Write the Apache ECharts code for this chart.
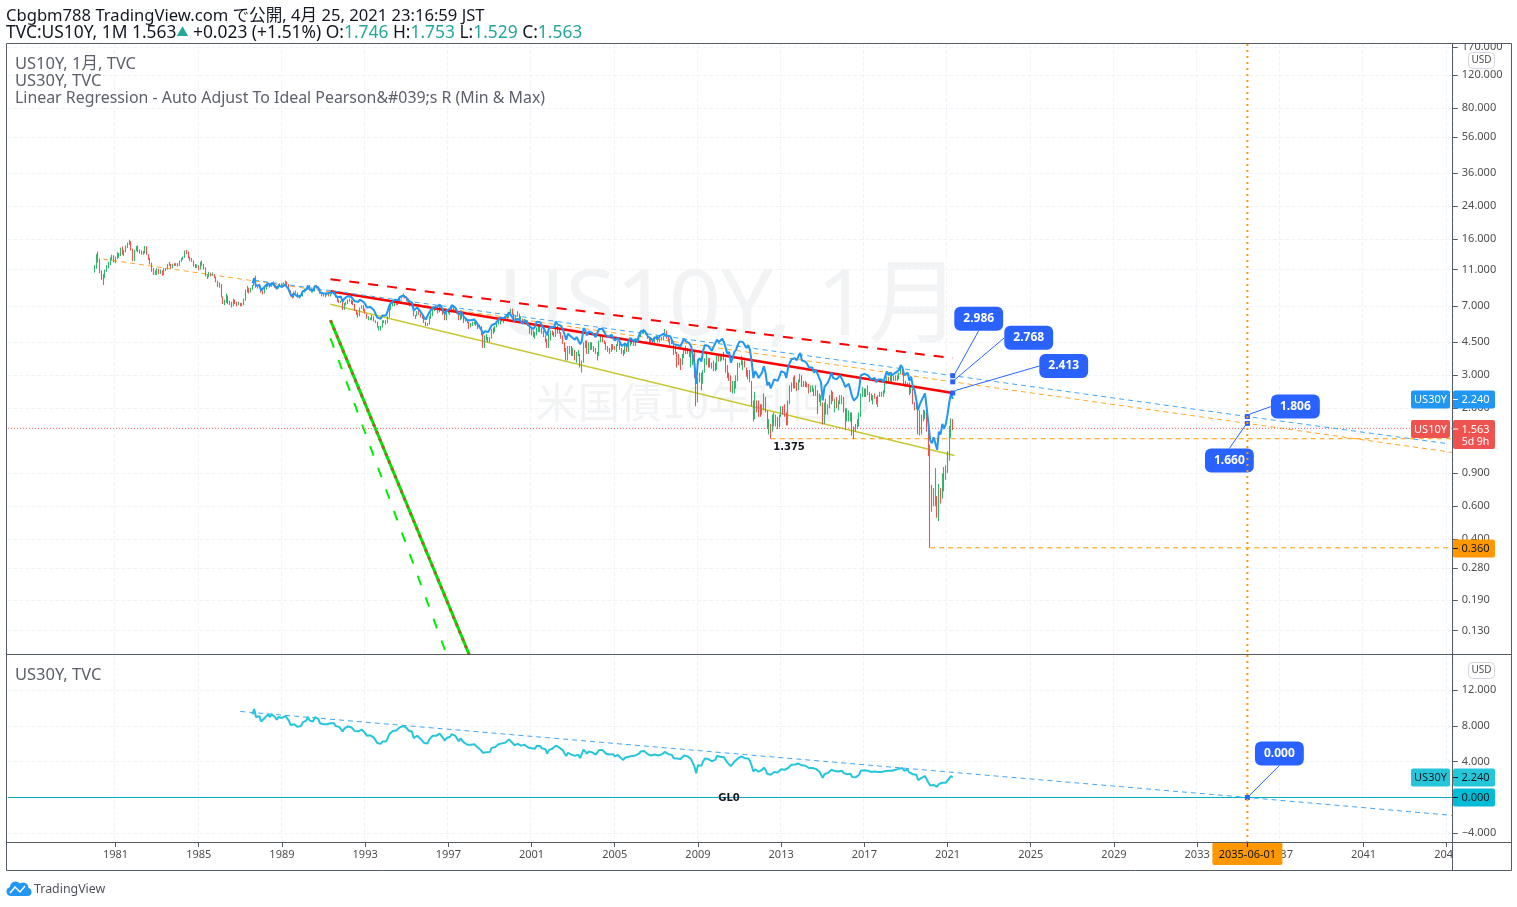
<!DOCTYPE html>
<html>
<head>
<meta charset="utf-8">
<title>US10Y / US30Y</title>
<script src="https://cdn.jsdelivr.net/npm/echarts@6/dist/echarts.min.js"></script>
<style>html,body{margin:0;padding:0;background:#fff}#c{width:1517px;height:907px}</style>
</head>
<body>
<div id="c"></div>
<script>
// Monthly US 10-year yield, one row per calendar year starting 1980.
const close10y = [
11.22,12.90,12.40,10.70,10.10,9.80,10.80,11.40,11.70,12.60,12.70,12.40,
12.60,13.10,13.10,14.10,13.30,13.80,14.60,15.20,15.60,14.20,12.40,13.90,
14.40,13.90,13.70,13.40,13.60,14.50,13.30,12.60,11.90,10.90,10.80,10.50,
11.00,10.60,10.80,10.40,11.10,11.00,11.70,11.70,11.30,11.70,11.60,11.80,
11.60,12.20,12.50,12.80,13.80,13.60,12.70,12.50,12.20,11.60,11.40,11.50,
11.00,12.00,11.60,11.20,10.20,10.20,10.50,10.20,10.30,10.00,9.50,8.90,
9.10,7.80,7.30,7.40,8.10,7.30,7.30,7.00,7.50,7.30,7.20,7.20,
7.10,7.20,7.60,8.40,8.70,8.40,8.70,9.00,9.60,8.90,9.00,8.90,
8.40,8.30,8.70,9.00,9.20,8.90,9.30,9.20,8.90,8.70,9.10,9.10,
8.90,9.30,9.30,9.00,8.50,8.10,7.80,8.30,8.30,7.90,7.80,7.90,
8.40,8.50,8.60,9.00,8.60,8.40,8.40,8.90,8.80,8.60,8.20,8.10,
8.00,8.00,8.10,8.00,8.10,8.20,8.20,7.80,7.50,7.40,7.40,6.70,
7.20,7.20,7.50,7.50,7.30,7.10,6.60,6.40,6.20,6.80,6.90,6.70,
6.40,6.00,6.00,6.00,6.10,5.80,5.80,5.40,5.40,5.40,5.80,5.80,
5.70,6.10,6.70,7.00,7.20,7.30,7.20,7.30,7.70,8.00,7.90,7.80,
7.60,7.20,7.20,7.10,6.30,6.20,6.40,6.30,6.20,6.00,5.80,5.60,
5.60,6.10,6.30,6.70,6.90,6.70,6.80,7.00,6.70,6.30,6.00,6.40,
6.50,6.50,6.90,6.70,6.70,6.50,6.00,6.30,6.10,5.80,5.90,5.70,
5.50,5.60,5.70,5.70,5.50,5.40,5.50,5.00,4.40,4.60,4.70,4.60,
4.70,5.30,5.20,5.40,5.60,5.80,5.90,5.90,5.90,6.00,6.20,6.40,
6.70,6.40,6.00,6.20,6.30,6.00,6.00,5.70,5.80,5.80,5.50,5.10,
5.10,4.90,4.90,5.30,5.40,5.40,5.10,4.80,4.60,4.20,4.70,5.10,
5.00,4.90,5.40,5.10,5.00,4.80,4.50,4.10,3.60,3.90,4.20,3.80,
4.00,3.70,3.80,3.90,3.40,3.50,4.40,4.50,3.90,4.30,4.30,4.25,
4.15,3.97,3.84,4.51,4.65,4.58,4.47,4.12,4.13,4.03,4.35,4.22,
4.13,4.38,4.49,4.20,3.98,3.91,4.28,4.02,4.33,4.56,4.49,4.39,
4.52,4.55,4.85,5.05,5.12,5.14,4.98,4.73,4.63,4.60,4.46,4.70,
4.82,4.56,4.65,4.63,4.89,5.03,4.74,4.53,4.59,4.47,3.94,4.02,
3.59,3.51,3.41,3.77,4.06,3.97,3.95,3.81,3.82,3.95,2.92,2.21,
2.84,3.01,2.67,3.12,3.46,3.53,3.48,3.40,3.31,3.38,3.20,3.84,
3.58,3.61,3.83,3.65,3.29,2.93,2.91,2.47,2.51,2.60,2.80,3.29,
3.37,3.43,3.47,3.29,3.06,3.16,2.80,2.22,1.92,2.11,2.07,1.88,
1.80,1.97,2.21,1.91,1.56,1.64,1.47,1.55,1.63,1.69,1.62,1.76,
1.98,1.88,1.85,1.67,2.13,2.49,2.58,2.78,2.61,2.55,2.74,3.03,
2.64,2.65,2.72,2.65,2.46,2.53,2.56,2.34,2.49,2.33,2.16,2.17,
1.64,1.99,1.92,2.03,2.12,2.33,2.18,2.21,2.04,2.14,2.21,2.27,
1.92,1.74,1.77,1.83,1.85,1.47,1.45,1.58,1.60,1.83,2.37,2.44,
2.45,2.39,2.39,2.28,2.20,2.30,2.29,2.12,2.33,2.38,2.41,2.41,
2.71,2.86,2.74,2.95,2.83,2.85,2.96,2.86,3.06,3.15,3.01,2.68,
2.63,2.72,2.41,2.50,2.12,2.00,2.02,1.50,1.67,1.69,1.78,1.92,
1.51,1.15,0.67,0.64,0.65,0.66,0.53,0.71,0.68,0.88,0.84,0.92,
1.07,1.40,1.746,1.563];
const high10y = [
11.60,13.30,13.70,12.60,10.90,10.40,11.00,11.60,12.10,12.80,13.20,13.10,
12.90,13.60,13.50,14.40,14.60,14.00,14.80,15.30,15.85,15.60,14.20,14.00,
14.70,14.80,14.10,13.90,13.80,14.70,14.60,13.30,12.70,12.00,11.20,10.90,
11.20,11.10,11.00,10.90,11.20,11.20,11.80,12.10,11.80,11.80,11.90,11.90,
11.90,12.30,12.70,12.90,13.90,14.00,13.70,12.90,12.70,12.30,11.80,11.70,
11.60,12.10,12.30,11.80,11.30,10.40,10.70,10.60,10.60,10.40,10.10,9.60,
9.40,9.20,7.90,7.60,8.20,8.00,7.50,7.40,7.70,7.60,7.40,7.40,
7.30,7.30,7.70,8.60,9.00,8.80,8.80,9.10,9.90,10.20,9.10,9.20,
9.00,8.50,8.80,9.10,9.40,9.30,9.40,9.50,9.30,9.00,9.20,9.30,
9.30,9.40,9.60,9.50,9.20,8.50,8.20,8.40,8.50,8.30,8.00,8.00,
8.50,8.70,8.70,9.10,9.10,8.70,8.60,9.00,9.10,8.90,8.70,8.30,
8.20,8.20,8.30,8.20,8.20,8.40,8.40,8.30,7.90,7.60,7.50,7.50,
7.30,7.40,7.60,7.70,7.60,7.50,7.20,6.70,6.50,6.90,7.10,7.10,
6.80,6.40,6.20,6.10,6.30,6.20,5.90,5.80,5.50,5.50,5.90,5.90,
5.90,6.20,6.90,7.20,7.50,7.40,7.50,7.50,7.80,8.00,8.20,8.00,
7.90,7.70,7.40,7.30,7.20,6.30,6.60,6.70,6.40,6.30,6.10,5.80,
5.70,6.20,6.50,6.80,7.00,7.10,7.00,7.10,7.10,6.80,6.30,6.50,
6.70,6.70,7.00,7.10,6.90,6.80,6.50,6.40,6.40,6.20,6.00,5.90,
5.80,5.70,5.80,5.80,5.80,5.60,5.60,5.50,5.10,4.90,5.00,4.80,
4.80,5.30,5.40,5.50,5.70,6.00,6.00,6.10,6.00,6.20,6.30,6.40,
6.80,6.80,6.40,6.30,6.60,6.40,6.20,6.00,6.00,5.90,5.90,5.50,
5.40,5.20,5.10,5.40,5.60,5.50,5.40,5.20,4.90,4.70,5.00,5.20,
5.20,5.10,5.50,5.50,5.30,5.10,4.90,4.50,4.20,4.30,4.30,4.30,
4.20,4.10,4.00,4.10,3.90,3.60,4.50,4.60,4.60,4.50,4.50,4.50,
4.30,4.20,4.00,4.60,4.90,4.90,4.60,4.50,4.30,4.20,4.40,4.40,
4.30,4.40,4.60,4.50,4.20,4.10,4.40,4.40,4.40,4.60,4.70,4.60,
4.60,4.70,4.90,5.10,5.20,5.30,5.20,5.00,4.80,4.80,4.70,4.70,
4.90,4.90,4.70,4.80,4.90,5.30,5.20,4.90,4.70,4.70,4.50,4.30,
4.00,3.90,3.70,3.90,4.20,4.30,4.20,4.10,4.10,4.10,4.00,3.10,
2.90,3.10,3.10,3.20,3.70,4.00,3.70,3.70,3.50,3.60,3.50,3.90,
3.90,3.80,3.90,4.00,3.70,3.40,3.10,3.00,2.80,2.80,3.00,3.50,
3.50,3.80,3.60,3.60,3.30,3.20,3.20,2.80,2.20,2.45,2.20,2.20,
2.10,2.10,2.40,2.30,1.95,1.75,1.65,1.85,1.90,1.85,1.80,1.85,
2.05,2.05,2.10,1.90,2.20,2.65,2.75,2.95,3.00,2.75,2.85,3.05,
3.00,2.80,2.80,2.75,2.70,2.65,2.65,2.55,2.65,2.50,2.40,2.35,
2.15,2.15,2.25,2.10,2.35,2.50,2.45,2.25,2.30,2.20,2.35,2.35,
2.30,2.00,2.00,1.95,1.90,1.90,1.60,1.65,1.75,1.90,2.40,2.60,
2.55,2.55,2.65,2.45,2.40,2.35,2.40,2.30,2.35,2.45,2.45,2.50,
2.75,2.95,2.95,3.03,3.11,2.98,3.00,3.00,3.10,3.25,3.25,3.05,
2.80,2.75,2.75,2.60,2.55,2.15,2.15,2.05,1.95,1.85,1.97,1.95,
1.90,1.68,1.28,0.78,0.75,0.96,0.68,0.79,0.75,0.90,0.97,0.99,
1.18,1.61,1.77,1.753];
const low10y = [
10.60,11.10,12.00,10.50,9.70,9.10,9.90,10.70,11.20,11.60,12.30,12.00,
11.90,12.50,12.70,13.00,13.20,13.00,13.60,14.30,14.90,13.90,12.20,12.20,
13.80,13.60,13.40,13.20,13.20,13.40,13.20,12.40,11.70,10.70,10.30,10.30,
10.30,10.40,10.40,10.20,10.30,10.80,11.00,11.50,11.10,11.20,11.50,11.50,
11.40,11.50,12.10,12.40,12.70,13.30,12.60,12.20,12.10,11.40,11.20,11.20,
10.90,11.00,11.50,11.00,10.10,9.80,10.00,10.10,10.20,9.90,9.40,8.90,
8.80,7.80,7.20,7.10,7.30,7.20,7.10,6.90,7.00,7.20,7.00,7.10,
7.00,7.00,7.10,7.50,8.30,8.20,8.30,8.60,9.00,8.80,8.70,8.80,
8.30,8.10,8.20,8.60,8.90,8.80,8.90,9.10,8.80,8.60,8.70,8.90,
8.80,8.90,9.10,8.90,8.40,7.90,7.70,7.80,8.20,7.80,7.70,7.80,
7.90,8.30,8.40,8.60,8.50,8.30,8.30,8.40,8.70,8.50,8.20,7.90,
7.90,7.80,8.00,7.90,7.90,8.10,8.10,7.80,7.40,7.30,7.30,6.70,
6.70,7.10,7.20,7.40,7.20,7.10,6.60,6.30,6.10,6.20,6.80,6.60,
6.40,6.00,5.90,5.90,5.90,5.80,5.70,5.40,5.20,5.20,5.40,5.70,
5.60,5.70,6.10,6.70,7.00,7.00,7.10,7.10,7.30,7.70,7.80,7.70,
7.50,7.10,7.00,7.00,6.20,6.00,6.20,6.30,6.10,6.00,5.70,5.50,
5.50,5.60,6.00,6.20,6.60,6.70,6.40,6.50,6.60,6.30,5.90,5.90,
6.40,6.30,6.50,6.60,6.50,6.40,5.90,5.90,6.00,5.70,5.80,5.70,
5.30,5.40,5.50,5.60,5.50,5.30,5.40,4.90,4.20,4.20,4.60,4.50,
4.50,4.70,5.00,5.10,5.40,5.60,5.60,5.80,5.70,5.90,5.90,6.10,
6.40,6.30,6.00,5.80,6.20,5.90,5.90,5.70,5.70,5.70,5.50,5.00,
4.90,4.80,4.70,4.90,5.10,5.10,5.00,4.80,4.50,4.20,4.20,4.60,
4.90,4.80,4.80,5.00,5.00,4.70,4.40,4.00,3.60,3.60,3.90,3.80,
3.80,3.60,3.50,3.80,3.30,3.10,3.50,4.20,3.90,3.90,4.10,4.10,
4.00,3.90,3.60,3.80,4.50,4.50,4.40,4.10,4.00,3.90,4.00,4.10,
4.10,4.00,4.30,4.10,3.90,3.80,3.90,4.00,4.00,4.30,4.40,4.30,
4.30,4.50,4.50,4.80,5.00,5.00,4.95,4.70,4.50,4.50,4.40,4.40,
4.65,4.50,4.50,4.60,4.60,4.85,4.70,4.50,4.30,4.40,3.85,3.90,
3.30,3.40,3.20,3.40,3.70,3.90,3.90,3.75,3.30,3.40,2.90,2.05,
2.15,2.75,2.50,2.70,3.10,3.40,3.30,3.30,3.25,3.15,3.15,3.20,
3.55,3.55,3.60,3.60,3.10,2.90,2.80,2.45,2.40,2.40,2.55,2.80,
3.30,3.40,3.20,3.30,2.95,2.85,2.75,2.05,1.70,1.75,1.90,1.80,
1.80,1.85,1.95,1.90,1.55,1.45,1.375,1.50,1.60,1.60,1.55,1.58,
1.80,1.85,1.80,1.62,1.62,2.10,2.45,2.55,2.55,2.47,2.50,2.75,
2.60,2.60,2.60,2.58,2.40,2.43,2.45,2.33,2.33,1.86,2.16,2.05,
1.64,1.65,1.85,1.85,2.00,2.10,2.18,1.90,2.00,1.95,2.10,2.10,
1.90,1.53,1.70,1.70,1.70,1.43,1.37,1.50,1.55,1.60,1.80,2.30,
2.30,2.30,2.35,2.16,2.20,2.10,2.25,2.10,2.03,2.30,2.30,2.30,
2.40,2.70,2.72,2.75,2.75,2.80,2.80,2.80,2.85,3.05,3.00,2.65,
2.60,2.60,2.35,2.40,2.10,1.95,1.97,1.45,1.43,1.45,1.70,1.75,
1.50,1.11,0.36,0.56,0.60,0.60,0.52,0.50,0.62,0.66,0.72,0.83,
0.90,1.05,1.39,1.529];
const firstOpen10y = 10.80;

// Monthly US 30-year yield from August 1987.
const close30y = [
9.30,9.90,9.00,9.00,9.10,
8.50,8.40,8.90,9.10,9.30,9.00,9.30,9.30,9.00,8.70,9.00,9.00,
8.90,9.10,9.10,8.90,8.60,8.10,7.90,8.20,8.20,7.90,7.90,8.00,
8.40,8.50,8.60,9.00,8.60,8.40,8.50,9.00,8.90,8.80,8.30,8.20,
8.20,8.20,8.20,8.20,8.30,8.40,8.30,8.00,7.80,7.90,7.90,7.40,
7.70,7.80,7.95,8.00,7.85,7.80,7.45,7.40,7.40,7.60,7.60,7.40,
7.20,6.90,6.90,6.95,7.00,6.70,6.60,6.10,6.00,6.00,6.25,6.35,
6.25,6.60,7.10,7.30,7.45,7.60,7.50,7.55,7.85,8.00,8.00,7.90,
7.75,7.50,7.45,7.35,6.65,6.60,6.90,6.75,6.55,6.35,6.10,5.95,
6.05,6.50,6.70,6.90,7.00,6.90,7.00,7.15,6.90,6.65,6.35,6.65,
6.80,6.80,7.10,6.95,6.90,6.80,6.30,6.60,6.40,6.15,6.05,5.90,
5.80,5.90,5.95,5.95,5.80,5.60,5.70,5.25,5.00,5.15,5.05,5.10,
5.10,5.55,5.60,5.65,5.80,5.95,6.10,6.05,6.05,6.15,6.30,6.50,
6.50,6.10,5.85,5.95,6.00,5.90,5.80,5.65,5.90,5.80,5.60,5.45,
5.50,5.30,5.45,5.80,5.75,5.75,5.50,5.35,5.40,4.90,5.30,5.45,
5.45,5.40,5.80,5.60,5.60,5.50,5.30,4.95,4.65,5.00,5.05,4.80,
4.85,4.65,4.80,4.80,4.40,4.55,5.35,5.20,4.90,5.15,5.10,5.05,
4.95,4.80,4.75,5.30,5.40,5.30,5.20,4.90,4.90,4.80,4.95,4.85,
4.60,4.70,4.75,4.50,4.30,4.20,4.45,4.25,4.55,4.75,4.65,4.55,
4.70,4.50,4.90,5.15,5.20,5.20,5.05,4.85,4.75,4.70,4.55,4.80,
4.90,4.70,4.85,4.80,5.00,5.10,4.90,4.85,4.85,4.75,4.40,4.45,
4.35,4.45,4.30,4.50,4.70,4.55,4.60,4.45,4.30,4.35,3.45,2.70,
3.60,3.70,3.55,4.05,4.35,4.35,4.30,4.20,4.05,4.25,4.20,4.65,
4.50,4.55,4.70,4.50,4.20,3.90,4.00,3.50,3.70,4.00,4.10,4.35,
4.55,4.60,4.50,4.40,4.20,4.35,4.10,3.55,2.90,3.15,3.05,2.90,
3.00,3.10,3.35,3.10,2.65,2.75,2.55,2.70,2.85,2.90,2.80,2.95,
3.15,3.10,3.10,2.90,3.30,3.50,3.65,3.70,3.70,3.60,3.80,3.95,
3.60,3.60,3.55,3.45,3.30,3.35,3.30,3.10,3.20,3.05,2.90,2.75,
2.20,2.60,2.55,2.75,2.90,3.10,2.90,2.95,2.85,2.90,3.00,3.00,
2.75,2.60,2.60,2.70,2.65,2.30,2.20,2.25,2.30,2.55,3.00,3.05,
3.05,3.00,3.00,2.95,2.85,2.85,2.90,2.75,2.85,2.85,2.85,2.75,
2.95,3.15,3.00,3.10,3.00,3.00,3.10,3.05,3.20,3.40,3.30,3.00,
3.00,3.10,2.80,2.95,2.60,2.50,2.55,1.95,2.10,2.20,2.20,2.40,
2.00,1.65,1.35,1.30,1.40,1.40,1.20,1.50,1.45,1.65,1.55,1.65,
1.85,2.15,2.40,2.24];

// Price-scale and time-scale tick labels.
const priceTicks = [170,120,80,56,36,24,16,11,7,4.5,3,2,0.9,0.6,0.4,0.28,0.19,0.13];
const lowerTicks = [12,8,4,-4];

// Drawn trend lines: [month, yield] pairs.
const orangeTrend = [['1980-06',12.5],['2021-04',2.768],['2035-06',1.66],['2045-04',1.163]];
const blueTrend = [['1987-09',9.65],['2021-04',2.986],['2035-06',1.806],['2044-12',1.30]];
const redTrend = [['1991-05',8.43],['2021-04',2.413]];
const redDashTrend = [['1991-05',9.77],['2021-04',3.70]];
const oliveTrend = [['1991-05',7.18],['2021-05',1.12]];
const greenTrend = [['1991-05',5.9],['1998-01',0.097]];
const greenDashTrend = [['1991-05',4.73],['1996-12',0.097]];
const lowerTrend = [['1987-01',9.62],['2035-06',0],['2045-04',-2.0]];

// Month axis: November 1975 through April 2045.
const months = [];
for (let y = 1975, m = 11; !(y === 2045 && m === 5); m++) {
  if (m > 12) { m = 1; y++; }
  if (y === 2045 && m === 5) break;
  months.push(y + '-' + String(m).padStart(2, '0'));
}
const yearTick = (i, name) => {
  const y = +name.slice(0, 4);
  return name.endsWith('-01') && y >= 1981 && (y - 1981) % 4 === 0;
};

const candleRows = close10y.map((c, i) => {
  const y = 1980 + Math.floor(i / 12), m = i % 12 + 1;
  return [y + '-' + String(m).padStart(2, '0'), i ? close10y[i - 1] : firstOpen10y, c, low10y[i], high10y[i]];
});
const rows30y = close30y.map((c, i) => {
  const t = 7 + i, y = 1987 + Math.floor(t / 12), m = t % 12 + 1;
  return [y + '-' + String(m).padStart(2, '0'), c];
});

const FONT = '"Noto Sans", sans-serif';
const CJK = '"Noto Sans", "Noto Sans CJK JP", sans-serif';
const MARK = '"DejaVu Sans", sans-serif';
const AXIS = '#4f4f4f', FRAME = '#555c66', FAINT = '#f0f3f8';

const seg = (name, data, color, width, type, xi, extra) => Object.assign({
  name, type: 'line', data, xAxisIndex: xi, yAxisIndex: xi, symbol: 'none', silent: true,
  lineStyle: { color, width, type }, z: 3, animation: false
}, extra || {});

const chart = echarts.init(document.getElementById('c'), null, { renderer: 'canvas' });

const xAxisBase = {
  type: 'category', data: months, boundaryGap: true,
  axisLine: { show: false, onZero: false },
  splitLine: { show: true, interval: yearTick, lineStyle: { color: FAINT, type: 'dashed', width: 1 } }
};

const callouts = [
  { pos: ['2021-04', 2.986], text: '2.986', off: [26, -57] },
  { pos: ['2021-04', 2.768], text: '2.768', off: [76, -44] },
  { pos: ['2021-04', 2.413], text: '2.413', off: [111, -27] },
  { pos: ['2035-06', 1.806], text: '1.806', off: [48, -10] },
  { pos: ['2035-06', 1.66], text: '1.660', off: [-18, 37] }
];
const calloutSeries = (items, xi) => ({
  type: 'scatter', xAxisIndex: xi, yAxisIndex: xi, symbol: 'rect', symbolSize: 5, z: 6, silent: true,
  itemStyle: { color: '#2962ff', opacity: 1 },
  data: items.map(c => ({ value: c.pos })),
  label: {
    show: true, position: 'inside', color: '#fff', fontFamily: FONT, fontWeight: 'bold', fontSize: 12,
    backgroundColor: '#2962ff', borderRadius: 6, padding: [6, 9], opacity: 1,
    formatter: p => items[p.dataIndex].text
  },
  labelLine: { show: true, lineStyle: { color: '#2962ff', width: 1, opacity: 1 } },
  labelLayout: p => ({ dx: items[p.dataIndex].off[0], dy: items[p.dataIndex].off[1] })
});

const yAxisBase = {
  position: 'right', axisLine: { show: false },
  axisTick: { show: true, length: 5, lineStyle: { color: FRAME } },
  axisLabel: { color: AXIS, fontFamily: FONT, fontSize: 11, margin: 9, align: 'left', padding: [3, 0, 0, 0] },
  splitLine: { show: true, lineStyle: { color: FAINT, type: 'dashed' } }
};

chart.setOption({
  animation: false,
  grid: [
    { left: 7.2, top: 44, width: 1445.6, height: 610.5 },
    { left: 7.2, top: 655, width: 1445.6, height: 187 }
  ],
  xAxis: [
    Object.assign({}, xAxisBase, { gridIndex: 0, axisTick: { show: false }, axisLabel: { show: false } }),
    Object.assign({}, xAxisBase, {
      gridIndex: 1,
      axisTick: { show: true, interval: yearTick, alignWithLabel: true, length: 5, lineStyle: { color: FRAME } },
      axisLabel: { show: true, interval: yearTick, color: AXIS, fontFamily: FONT, fontSize: 11, margin: 7,
        formatter: v => v.slice(0, 4) }
    })
  ],
  yAxis: [
    Object.assign({}, yAxisBase, {
      gridIndex: 0, type: 'log', min: 0.097, max: 175.9,
      axisTick: Object.assign({}, yAxisBase.axisTick, { customValues: priceTicks }),
      splitLine: Object.assign({}, yAxisBase.splitLine, { customValues: priceTicks }),
      axisLabel: Object.assign({}, yAxisBase.axisLabel, { customValues: priceTicks, formatter: v => (+v).toFixed(3) })
    }),
    Object.assign({}, yAxisBase, {
      gridIndex: 1, type: 'value', min: -4.98, max: 15.94,
      axisTick: Object.assign({}, yAxisBase.axisTick, { customValues: lowerTicks }),
      splitLine: Object.assign({}, yAxisBase.splitLine, { customValues: lowerTicks }),
      axisLabel: Object.assign({}, yAxisBase.axisLabel, { customValues: lowerTicks,
        formatter: v => (v < 0 ? '\u2212' : '') + Math.abs(v).toFixed(3) })
    })
  ],
  series: [
    seg('orange', orangeTrend, '#ffa726', 1, [5, 4], 0),
    seg('olive', oliveTrend, '#c8c832', 1.5, 'solid', 0),
    seg('green', greenTrend, '#00e600', 3, 'solid', 0),
    seg('greenDots', greenTrend, '#9a6a20', 3, [3, 5], 0, { z: 4 }),
    seg('greenDash', greenDashTrend, '#00ee00', 2, [10, 13], 0),
    seg('level1375', [['2012-07', 1.375], ['2045-04', 1.375]], '#ff9800', 1, [5, 4], 0),
    seg('level036', [['2020-03', 0.36], ['2045-04', 0.36]], '#ff9800', 1, [5, 4], 0),
    seg('last', [[months[0], 1.563], [months[months.length - 1], 1.563]], '#ef5350', 1, [1, 2], 0),
    {
      name: 'US10Y', type: 'candlestick', xAxisIndex: 0, yAxisIndex: 0, data: candleRows,
      encode: { x: 0, y: [1, 2, 3, 4] }, barWidth: 1, z: 3, silent: true,
      itemStyle: { color: '#34b56e', color0: '#ef5350', borderColor: '#34b56e', borderColor0: '#ef5350', borderWidth: 1.1 }
    },
    seg('red', redTrend, '#ff0000', 2.5, 'solid', 0, { z: 4 }),
    seg('redDash', redDashTrend, '#ff0000', 2, [10, 9], 0, { z: 4 }),
    seg('blueTrend', blueTrend, '#42a5f5', 1, [5, 4], 0, { z: 4 }),
    seg('US30Y', rows30y, '#2196f3', 2, 'solid', 0, { z: 5 }),
    seg('cursor', [['2035-06', 175.9], ['2035-06', 0.097]], '#ff9800', 2, [2, 4], 0, { z: 7 }),
    calloutSeries(callouts, 0),

    seg('zero', [[months[0], 0], [months[months.length - 1], 0]], '#00acc1', 1, 'solid', 1),
    seg('lowerTrend', lowerTrend, '#42a5f5', 1, [5, 4], 1, { z: 4 }),
    seg('US30Y lower', rows30y, '#26c6da', 2, 'solid', 1, { z: 5 }),
    seg('cursor lower', [['2035-06', 15.94], ['2035-06', -4.98]], '#ff9800', 2, [2, 4], 1, { z: 7 }),
    calloutSeries([{ pos: ['2035-06', 0], text: '0.000', off: [32, -44] }], 1)
  ]
});

// Axis tags and static text placed from the same scales as the marks.
const yTop = v => chart.convertToPixel({ yAxisIndex: 0 }, v);
const yLow = v => chart.convertToPixel({ yAxisIndex: 1 }, v);
const xAt = name => chart.convertToPixel({ xAxisIndex: 1 }, name);

const txt = (x, y, text, font, fill, extra) => ({
  type: 'text', x, y, z: 100, silent: true,
  style: Object.assign({ text, font, fill, verticalAlign: 'middle' }, extra || {})
});
const box = (x, y, w, h, fill, r) => ({
  type: 'rect', z: 90, silent: true, shape: { x, y, width: w, height: h, r: r || 0 }, style: { fill }
});
const font11 = '11px ' + FONT;
const tagPair = (y, labelFill, valueFill, name, value, labelInk, valueInk) => [
  box(1411, y - 9, 39, 18, labelFill, 2),
  txt(1430.5, y + 0.5, name, font11, labelInk, { align: 'center' }),
  box(1453, y - 9, 42, 18, valueFill, 2),
  txt(1475.5, y + 0.5, value, font11, valueInk, { align: 'center' }),
  { type: 'line', z: 91, silent: true, shape: { x1: 1453, y1: y, x2: 1458, y2: y }, style: { stroke: valueInk } }
];
const xCursor = xAt('2035-06');
const y224 = Math.round(yTop(2.24)) + 0.5, y1563 = Math.round(yTop(1.563)) + 1, y036 = Math.round(yTop(0.36)) + 0.5,
  yl224 = Math.round(yLow(2.24)) + 0.5, yl0 = Math.floor(yLow(0)) + 0.5;

const upFill = '#26a69a';
const shortLegend = '16.5px ' + CJK, longLegend = '15.9px ' + CJK;
chart.setOption({
  graphic: [
    // watermarks behind the series
    { type: 'text', x: 498, y: 309, z: -1, silent: true,
      style: { text: 'US10Y, 1月', font: '92px "Noto Sans", "Noto Sans CJK JP"', fill: '#f2f3f4', verticalAlign: 'middle' } },
    { type: 'text', x: 536, y: 402, z: -1, silent: true,
      style: { text: '米国債10年利回り', font: '42px "Noto Sans CJK JP"', fill: '#f2f3f4', verticalAlign: 'middle' } },

    // white margins that trim the axis labels at the frame
    box(1452, 30, 65, 14, '#fff'),
    box(1453, 843, 58, 27, '#fff'),

    // header
    txt(6, 16.5, 'Cbgbm788 TradingView.com で公開, 4月 25, 2021 23:16:59 JST', '16.6px ' + CJK, '#131722'),
    {
      type: 'text', x: 6, y: 33.5, z: 100, silent: true,
      style: {
        text: 'TVC:US10Y, 1M 1.563{t|▲} +0.023 (+1.51%) O:{v|1.746} H:{v|1.753} L:{v|1.529} C:{v|1.563}',
        font: '17.4px ' + CJK, fill: '#131722', verticalAlign: 'middle',
        rich: { v: { fill: upFill, font: '17.4px ' + CJK }, t: { fill: upFill, font: '12px ' + CJK } }
      }
    },

    // pane legends
    txt(15, 64, 'US10Y, 1月, TVC', shortLegend, '#5d606b'),
    txt(15, 81, 'US30Y, TVC', shortLegend, '#5d606b'),
    txt(15, 98, 'Linear Regression - Auto Adjust To Ideal Pearson&#039;s R (Min & Max)', longLegend, '#5d606b'),
    txt(15, 675, 'US30Y, TVC', shortLegend, '#5d606b'),

    // chart annotations
    txt(789, yTop(1.375) + 9, '1.375', 'bold 10px ' + MARK, '#131722', { align: 'center' }),
    txt(729, yl0 + 1, 'GL0', 'bold 10px ' + MARK, '#131722', { align: 'center' }),

    // price-scale buttons
    { type: 'rect', z: 90, silent: true, shape: { x: 1468.5, y: 52.5, width: 26, height: 16, r: 4 },
      style: { fill: '#fff', stroke: '#d1d4dc' } },
    txt(1481.5, 60.5, 'USD', '10px ' + FONT, AXIS, { align: 'center' }),
    { type: 'rect', z: 90, silent: true, shape: { x: 1468.5, y: 662.5, width: 26, height: 16, r: 4 },
      style: { fill: '#fff', stroke: '#d1d4dc' } },
    txt(1481.5, 670.5, 'USD', '10px ' + FONT, AXIS, { align: 'center' }),

    // last-value tags
    ...tagPair(y224, '#2196f3', '#2196f3', 'US30Y', '2.240', '#fff', '#fff'),
    box(1411, y1563 - 9, 39, 18, '#ef5350', 2),
    txt(1430.5, y1563 + 0.5, 'US10Y', font11, '#fff', { align: 'center' }),
    box(1453, y1563 - 9, 42, 29, '#ef5350', 2),
    txt(1475.5, y1563 + 0.5, '1.563', font11, '#fff', { align: 'center' }),
    txt(1475.5, y1563 + 13.5, '5d 9h', '10.5px ' + FONT, '#fff', { align: 'center' }),
    { type: 'line', z: 91, silent: true, shape: { x1: 1453, y1: y1563, x2: 1458, y2: y1563 }, style: { stroke: '#fff' } },
    box(1453, y036 - 9, 42, 18, '#ff9800', 2),
    txt(1475.5, y036 + 0.5, '0.360', font11, '#131722', { align: 'center' }),
    { type: 'line', z: 91, silent: true, shape: { x1: 1453, y1: y036, x2: 1458, y2: y036 }, style: { stroke: '#131722' } },

    ...tagPair(yl224, '#26c6da', '#26c6da', 'US30Y', '2.240', '#131722', '#131722'),
    box(1453, yl0 - 9, 42, 18, '#00bcd4', 2),
    txt(1475.5, yl0 + 0.5, '0.000', font11, '#131722', { align: 'center' }),
    { type: 'line', z: 91, silent: true, shape: { x1: 1453, y1: yl0, x2: 1458, y2: yl0 }, style: { stroke: '#131722' } },

    // crosshair date tag
    box(xCursor - 35, 842, 70, 23, '#ff9800', 2),
    txt(xCursor, 855, '2035-06-01', font11, '#131722', { align: 'center' }),
    { type: 'line', z: 96, silent: true, shape: { x1: xCursor, y1: 843, x2: xCursor, y2: 847 }, style: { stroke: '#131722' } },

    // pane frames
    { type: 'rect', z: 95, silent: true, shape: { x: 6.5, y: 43.5, width: 1505, height: 827 }, style: { fill: 'none', stroke: FRAME } },
    { type: 'line', z: 95, silent: true, shape: { x1: 1452.5, y1: 44, x2: 1452.5, y2: 870 }, style: { stroke: FRAME } },
    { type: 'line', z: 95, silent: true, shape: { x1: 7, y1: 654.5, x2: 1511, y2: 654.5 }, style: { stroke: FRAME } },
    { type: 'line', z: 95, silent: true, shape: { x1: 7, y1: 842.5, x2: 1511, y2: 842.5 }, style: { stroke: FRAME } },

    // footer brand: a cloud of overlapping discs with a white zigzag
    { type: 'circle', z: 100, silent: true, shape: { cx: 11, cy: 891.5, r: 4.5 }, style: { fill: '#2196f3' } },
    { type: 'circle', z: 100, silent: true, shape: { cx: 15.5, cy: 887, r: 5.5 }, style: { fill: '#2196f3' } },
    { type: 'circle', z: 100, silent: true, shape: { cx: 23, cy: 888, r: 5.5 }, style: { fill: '#2196f3' } },
    { type: 'circle', z: 100, silent: true, shape: { cx: 27.5, cy: 892, r: 4 }, style: { fill: '#2196f3' } },
    box(11, 889, 16.5, 7, '#2196f3'),
    { type: 'polyline', z: 101, silent: true,
      shape: { points: [[10, 893], [15, 887], [20, 892], [25, 886]] },
      style: { stroke: '#fff', fill: 'none', lineWidth: 1.5 } },
    txt(34, 889, 'TradingView', '12.4px ' + FONT, '#50535e')
  ]
});
</script>
</body>
</html>
